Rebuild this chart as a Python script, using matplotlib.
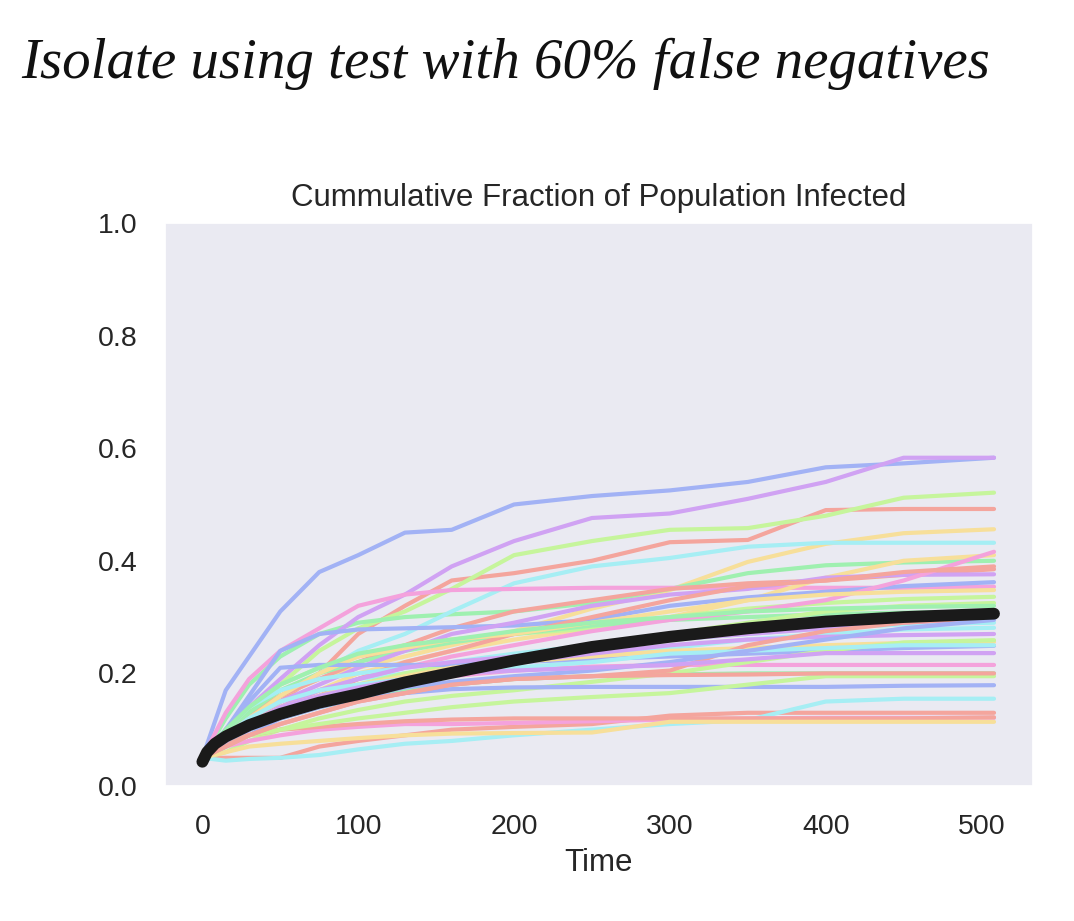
import matplotlib
matplotlib.use("Agg")
import matplotlib.pyplot as plt
import seaborn as sns

T = [0, 15, 30, 50, 75, 100, 130, 160, 200, 250, 300, 350, 400, 450, 508]

# individual runs (cumulative fraction infected)
blue_top = [0.05, 0.17, 0.23, 0.31, 0.38, 0.41, 0.45, 0.455, 0.50, 0.515, 0.525, 0.54, 0.566, 0.573, 0.583]
blue_flat28 = [0.05, 0.10, 0.16, 0.24, 0.27, 0.278, 0.28, 0.282, 0.285, 0.295, 0.32, 0.335, 0.345, 0.355, 0.362]
blue_flat22 = [0.05, 0.10, 0.15, 0.21, 0.215, 0.215, 0.215, 0.215, 0.22, 0.225, 0.23, 0.235, 0.24, 0.245, 0.249]
blue_low = [0.05, 0.07, 0.09, 0.12, 0.14, 0.155, 0.165, 0.172, 0.175, 0.176, 0.176, 0.176, 0.176, 0.178, 0.179]
blue_mid = [0.05, 0.08, 0.10, 0.12, 0.14, 0.16, 0.175, 0.185, 0.195, 0.205, 0.22, 0.24, 0.26, 0.28, 0.295]

purple_top = [0.05, 0.10, 0.14, 0.19, 0.25, 0.30, 0.34, 0.39, 0.435, 0.476, 0.484, 0.51, 0.54, 0.583, 0.583]
purple_376 = [0.05, 0.09, 0.12, 0.15, 0.18, 0.21, 0.24, 0.27, 0.29, 0.32, 0.34, 0.35, 0.37, 0.375, 0.376]
purple_298 = [0.05, 0.08, 0.11, 0.14, 0.17, 0.19, 0.21, 0.22, 0.23, 0.245, 0.26, 0.27, 0.28, 0.29, 0.298]
purple_270 = [0.05, 0.07, 0.10, 0.13, 0.15, 0.17, 0.19, 0.205, 0.22, 0.235, 0.25, 0.26, 0.265, 0.268, 0.27]
purple_236 = [0.05, 0.08, 0.11, 0.14, 0.16, 0.175, 0.19, 0.20, 0.205, 0.21, 0.215, 0.225, 0.236, 0.236, 0.236]

lime_521 = [0.05, 0.09, 0.13, 0.18, 0.24, 0.28, 0.31, 0.35, 0.41, 0.435, 0.455, 0.458, 0.48, 0.512, 0.521]
lime_336 = [0.05, 0.10, 0.14, 0.18, 0.21, 0.23, 0.25, 0.26, 0.27, 0.28, 0.30, 0.315, 0.325, 0.332, 0.336]
lime_325 = [0.05, 0.07, 0.10, 0.13, 0.16, 0.18, 0.20, 0.215, 0.23, 0.25, 0.27, 0.29, 0.31, 0.32, 0.325]
lime_259 = [0.05, 0.06, 0.08, 0.10, 0.12, 0.135, 0.15, 0.16, 0.17, 0.185, 0.20, 0.22, 0.24, 0.255, 0.259]
lime_195 = [0.05, 0.07, 0.09, 0.10, 0.11, 0.12, 0.13, 0.14, 0.15, 0.158, 0.165, 0.18, 0.195, 0.195, 0.195]

salmon_492 = [0.05, 0.08, 0.11, 0.15, 0.20, 0.27, 0.32, 0.365, 0.378, 0.40, 0.433, 0.437, 0.49, 0.492, 0.492]
salmon_385 = [0.05, 0.10, 0.13, 0.16, 0.19, 0.22, 0.25, 0.28, 0.31, 0.33, 0.35, 0.36, 0.365, 0.375, 0.385]
salmon_390 = [0.05, 0.07, 0.10, 0.13, 0.16, 0.19, 0.22, 0.24, 0.27, 0.30, 0.33, 0.355, 0.365, 0.38, 0.39]
salmon_130 = [0.05, 0.05, 0.05, 0.05, 0.07, 0.08, 0.09, 0.10, 0.105, 0.11, 0.125, 0.13, 0.13, 0.13, 0.13]
salmon_122 = [0.05, 0.08, 0.09, 0.10, 0.105, 0.11, 0.115, 0.118, 0.12, 0.12, 0.12, 0.12, 0.12, 0.12, 0.122]
salmon_steep = [0.05, 0.07, 0.09, 0.11, 0.13, 0.15, 0.165, 0.18, 0.19, 0.195, 0.205, 0.25, 0.275, 0.29, 0.30]
salmon_200 = [0.05, 0.07, 0.09, 0.11, 0.13, 0.15, 0.165, 0.18, 0.19, 0.195, 0.197, 0.198, 0.20, 0.20, 0.20]

cyan_432 = [0.05, 0.09, 0.12, 0.16, 0.20, 0.24, 0.27, 0.31, 0.36, 0.39, 0.405, 0.425, 0.432, 0.432, 0.432]
cyan_low = [0.05, 0.045, 0.048, 0.05, 0.055, 0.065, 0.075, 0.08, 0.09, 0.10, 0.11, 0.117, 0.15, 0.155, 0.155]
cyan_281 = [0.05, 0.09, 0.12, 0.15, 0.17, 0.19, 0.20, 0.21, 0.22, 0.235, 0.245, 0.26, 0.27, 0.278, 0.281]
cyan_290 = [0.05, 0.10, 0.14, 0.17, 0.19, 0.20, 0.21, 0.22, 0.235, 0.25, 0.26, 0.27, 0.28, 0.287, 0.29]
cyan_250 = [0.05, 0.09, 0.12, 0.15, 0.17, 0.18, 0.19, 0.20, 0.21, 0.22, 0.235, 0.24, 0.245, 0.25, 0.25]

pink_flat = [0.05, 0.13, 0.19, 0.24, 0.28, 0.32, 0.34, 0.348, 0.35, 0.352, 0.352, 0.352, 0.352, 0.352, 0.354]
pink_low = [0.05, 0.07, 0.08, 0.09, 0.10, 0.105, 0.11, 0.11, 0.112, 0.115, 0.118, 0.12, 0.121, 0.121, 0.121]
pink_215 = [0.05, 0.08, 0.10, 0.13, 0.15, 0.17, 0.185, 0.195, 0.205, 0.212, 0.215, 0.215, 0.215, 0.215, 0.215]
pink_late = [0.05, 0.08, 0.11, 0.14, 0.17, 0.19, 0.21, 0.23, 0.25, 0.275, 0.295, 0.31, 0.33, 0.365, 0.416]

green_400 = [0.05, 0.12, 0.18, 0.23, 0.27, 0.29, 0.30, 0.305, 0.31, 0.325, 0.35, 0.378, 0.392, 0.397, 0.40]
green_309 = [0.05, 0.09, 0.13, 0.17, 0.20, 0.22, 0.24, 0.255, 0.27, 0.285, 0.295, 0.30, 0.305, 0.308, 0.309]
green_200 = [0.05, 0.08, 0.10, 0.12, 0.14, 0.155, 0.17, 0.18, 0.19, 0.195, 0.198, 0.20, 0.20, 0.20, 0.20]
green_320 = [0.05, 0.10, 0.14, 0.18, 0.21, 0.235, 0.25, 0.26, 0.275, 0.29, 0.30, 0.31, 0.315, 0.318, 0.32]

yellow_low = [0.05, 0.06, 0.07, 0.075, 0.08, 0.085, 0.09, 0.093, 0.094, 0.095, 0.114, 0.114, 0.114, 0.114, 0.114]
yellow_456 = [0.05, 0.09, 0.12, 0.16, 0.19, 0.21, 0.23, 0.25, 0.275, 0.315, 0.348, 0.398, 0.43, 0.449, 0.456]
yellow_410 = [0.05, 0.08, 0.11, 0.14, 0.17, 0.20, 0.22, 0.24, 0.26, 0.28, 0.30, 0.33, 0.37, 0.40, 0.41]
yellow_348 = [0.05, 0.09, 0.12, 0.16, 0.20, 0.23, 0.245, 0.26, 0.27, 0.29, 0.31, 0.33, 0.34, 0.345, 0.348]
yellow_256 = [0.05, 0.08, 0.11, 0.14, 0.16, 0.18, 0.195, 0.21, 0.22, 0.23, 0.24, 0.245, 0.25, 0.254, 0.256]

# mean over all runs
MEAN_T = [0, 3, 8, 15, 30, 50, 75, 100, 130, 160, 200, 250, 300, 350, 400, 450, 508]
mean_frac = [0.043, 0.06, 0.075, 0.088, 0.108, 0.128, 0.148, 0.163, 0.184, 0.201, 0.223, 0.247, 0.265, 0.28, 0.292, 0.300, 0.306]

colors = {
    'salmon': '#f4a59d', 'yellow': '#f7df9a', 'lime': '#c6f59c', 'green': '#9ff0b0',
    'cyan': '#a6eef4', 'blue': '#a2b2f5', 'purple': '#d0a2f3', 'pink': '#f4a2dc',
}

runs = [
    (salmon_492, 'salmon'), (yellow_456, 'yellow'), (lime_521, 'lime'), (green_400, 'green'),
    (cyan_432, 'cyan'), (blue_top, 'blue'), (purple_top, 'purple'), (pink_flat, 'pink'),
    (salmon_385, 'salmon'), (yellow_410, 'yellow'), (lime_336, 'lime'), (green_309, 'green'),
    (cyan_281, 'cyan'), (blue_flat28, 'blue'), (purple_376, 'purple'), (pink_late, 'pink'),
    (salmon_390, 'salmon'), (yellow_348, 'yellow'), (lime_325, 'lime'), (green_200, 'green'),
    (cyan_290, 'cyan'), (blue_flat22, 'blue'), (purple_298, 'purple'), (pink_215, 'pink'),
    (salmon_130, 'salmon'), (yellow_256, 'yellow'), (lime_259, 'lime'), (green_320, 'green'),
    (cyan_low, 'cyan'), (blue_low, 'blue'), (purple_270, 'purple'), (pink_low, 'pink'),
    (salmon_122, 'salmon'), (yellow_low, 'yellow'), (lime_195, 'lime'), (salmon_steep, 'salmon'),
    (cyan_250, 'cyan'), (blue_mid, 'blue'), (purple_236, 'purple'), (salmon_200, 'salmon'),
]

sns.set_theme(style="dark")
plt.rcParams['font.family'] = ['Liberation Sans', 'DejaVu Sans']

fig = plt.figure(figsize=(10.74, 9.21), dpi=100)
ax = fig.add_axes([0.1536, 0.1466, 0.8082, 0.6113])

for vals, c in runs:
    ax.plot(T, vals, color=colors[c], lw=3.0)
ax.plot(MEAN_T, mean_frac, color='#1a1a1a', lw=8.5, solid_capstyle='round')

ax.set_xlim(-24, 533)
ax.set_ylim(0, 1)
ax.set_xticks([0, 100, 200, 300, 400, 500])
ax.set_yticks([0.0, 0.2, 0.4, 0.6, 0.8, 1.0])
ax.tick_params(axis='x', labelsize=20.5, pad=14, colors='#262626')
ax.tick_params(axis='y', labelsize=20.5, pad=14, colors='#262626')
ax.set_title('Cummulative Fraction of Population Infected', fontsize=22.5, pad=12, color='#262626')
ax.set_xlabel('Time', fontsize=22.5, labelpad=6, color='#262626')

fig.text(0.02, 0.915, 'Isolate using test with 60% false negatives',
         family=['Liberation Serif', 'DejaVu Serif'], style='italic',
         fontsize=41, va='baseline', ha='left', color='#111111')

fig.savefig('out.png', dpi=100, facecolor='white')
